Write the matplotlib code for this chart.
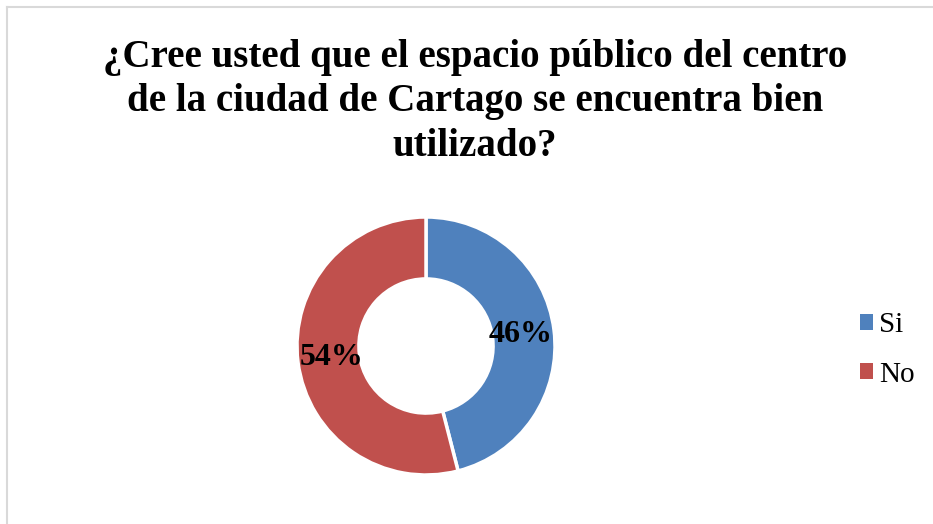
import matplotlib.pyplot as plt
from matplotlib.lines import Line2D
from matplotlib.patches import Patch

# datos de la encuesta
categorias = ['Si', 'No']
valores = [46, 54]
colores = ['#4F81BD', '#C0504D']
titulo = '¿Cree usted que el espacio público del centro\nde la ciudad de Cartago se encuentra bien\nutilizado?'

plt.rcParams['font.family'] = ['Liberation Serif', 'DejaVu Serif']

W, H = 933, 524
fig = plt.figure(figsize=(W / 100, H / 100), dpi=100)

# borde gris del grafico (solo arriba e izquierda visibles)
fig.add_artist(Line2D([7 / W, 1.0], [1 - 7 / H, 1 - 7 / H], color='#D9D9D9', lw=1.5))
fig.add_artist(Line2D([7 / W, 7 / W], [0.0, 1 - 7 / H], color='#D9D9D9', lw=1.5))

fig.text(475 / W, 1 - 102 / H, titulo, ha='center', va='center', fontsize=28,
         fontweight='bold', linespacing=1.28)

# dona
cx, cy, r = 426, 346, 129
ax = fig.add_axes([(cx - r) / W, (H - cy - r) / H, 2 * r / W, 2 * r / H])
wedges, textos, pct = ax.pie(valores, colors=colores, startangle=90, counterclock=False,
                             autopct='%1.0f%%', pctdistance=0.74,
                             wedgeprops=dict(width=0.48, edgecolor='white', linewidth=2.5),
                             textprops=dict(fontsize=23, fontweight='bold', color='black'))
ax.set_xlim(-1, 1)
ax.set_ylim(-1, 1)
ax.set_aspect('auto')
ax.axis('off')

handles = [Patch(facecolor=c, edgecolor='none') for c in colores]
fig.legend(handles, categorias, loc='center left', bbox_to_anchor=(834 / W, 1 - 350 / H),
           frameon=False, fontsize=21, handlelength=0.45, handleheight=0.45,
           handletextpad=0.2, labelspacing=0.8)

fig.savefig('out.png', dpi=100)
